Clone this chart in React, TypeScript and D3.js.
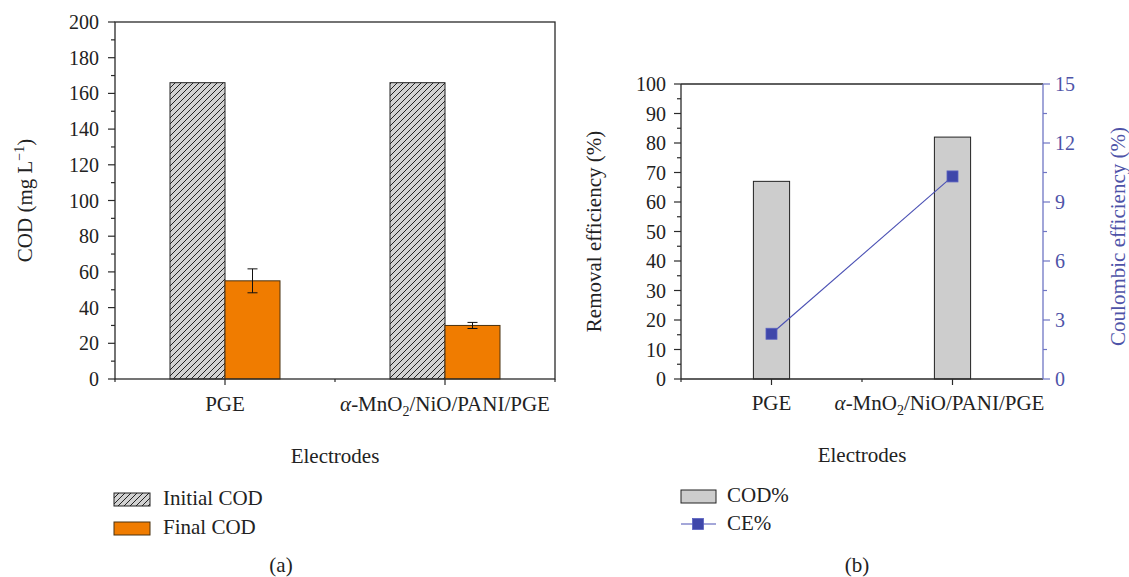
import React from "react";
import * as d3 from "d3";

// data
const electrodes = ["PGE", "α-MnO2/NiO/PANI/PGE"];
const initialCOD = [166, 166];
const finalCOD = [55, 30];
const finalErr = [6.7, 1.7];
const codRemoval = [67, 82];
const coulombic = [2.3, 10.3];

const codTicks = d3.range(0, 201, 20);
const codMinor = d3.range(10, 200, 20);
const remTicks = d3.range(0, 101, 10);
const remMinor = d3.range(5, 100, 10);
const ceTicks = d3.range(0, 16, 3);
const ceMinor = d3.range(1.5, 15, 3);

const FONT = "'Liberation Serif', 'Times New Roman', serif";
const FS = 21; // labels
const TS = 20; // tick numbers
const AXIS = "#2a2a2a";
const BLUE_TEXT = "#4e53a8";
const BLUE_AXIS = "#6f76c4";
const ORANGE = "#f07c00";

// label with the subscript for MnO2
const Label = ({ name, x, y, anchor = "middle" }: any) => {
  if (name.startsWith("α")) {
    return (
      <text x={x} y={y} textAnchor={anchor} fontFamily={FONT} fontSize={FS} fill="#222">
        <tspan fontStyle="italic">α</tspan>
        <tspan>-MnO</tspan>
        <tspan fontSize={14} dy={5}>2</tspan>
        <tspan dy={-5}>/NiO/PANI/PGE</tspan>
      </text>
    );
  }
  return (
    <text x={x} y={y} textAnchor={anchor} fontFamily={FONT} fontSize={FS} fill="#222">
      {name}
    </text>
  );
};

const PanelA = () => {
  const left = 115, right = 555, top = 22, bottom = 379;
  const x = d3.scaleBand().domain(electrodes).range([left, right]);
  const y = d3.scaleLinear().domain([0, 200]).range([bottom, top]);
  const bw = x.bandwidth() * 0.25;
  const cx = (d: string) => (x(d) as number) + x.bandwidth() / 2;
  const bounds = [left, left + x.bandwidth(), right];

  return (
    <g>
      {electrodes.map((d, i) => (
        <g key={d}>
          <rect x={cx(d) - bw} y={y(initialCOD[i])} width={bw} height={y(0) - y(initialCOD[i])}
            fill="url(#hatch)" stroke="#222" strokeWidth={1} />
          <rect x={cx(d)} y={y(finalCOD[i])} width={bw} height={y(0) - y(finalCOD[i])}
            fill={ORANGE} stroke="#4a3210" strokeWidth={1} />
          <g stroke="#111" strokeWidth={1}>
            <line x1={cx(d) + bw / 2} x2={cx(d) + bw / 2} y1={y(finalCOD[i] + finalErr[i])} y2={y(finalCOD[i] - finalErr[i])} />
            <line x1={cx(d) + bw / 2 - 5} x2={cx(d) + bw / 2 + 5} y1={y(finalCOD[i] + finalErr[i])} y2={y(finalCOD[i] + finalErr[i])} />
            <line x1={cx(d) + bw / 2 - 5} x2={cx(d) + bw / 2 + 5} y1={y(finalCOD[i] - finalErr[i])} y2={y(finalCOD[i] - finalErr[i])} />
          </g>
        </g>
      ))}
      {/* frame */}
      <rect x={left} y={top} width={right - left} height={bottom - top} fill="none" stroke={AXIS} strokeWidth={1.3} />
      {codTicks.map((t) => (
        <g key={t}>
          <line x1={left - 7} x2={left} y1={y(t)} y2={y(t)} stroke={AXIS} strokeWidth={1.2} />
          <text x={left - 16} y={y(t)} dy="0.35em" textAnchor="end" fontFamily={FONT} fontSize={TS} fill="#222">{t}</text>
        </g>
      ))}
      {codMinor.map((t) => (
        <line key={t} x1={left - 4} x2={left} y1={y(t)} y2={y(t)} stroke={AXIS} strokeWidth={1.2} />
      ))}
      {electrodes.map((d) => (
        <line key={d} x1={cx(d)} x2={cx(d)} y1={bottom} y2={bottom + 6} stroke={AXIS} strokeWidth={1.2} />
      ))}
      {bounds.map((b) => (
        <line key={b} x1={b} x2={b} y1={bottom} y2={bottom + 3} stroke={AXIS} strokeWidth={1.2} />
      ))}
      {electrodes.map((d) => (
        <Label key={d} name={d} x={cx(d)} y={411} />
      ))}
      <text x={(left + right) / 2} y={463} textAnchor="middle" fontFamily={FONT} fontSize={FS} fill="#222">Electrodes</text>
      <text transform={`translate(32,${(top + bottom) / 2}) rotate(-90)`} textAnchor="middle" fontFamily={FONT} fontSize={FS} fill="#222">
        COD (mg L<tspan fontSize={14} dy={-8}>−1</tspan><tspan dy={8}>)</tspan>
      </text>
      {/* legend */}
      <rect x={114} y={493} width={36} height={13} fill="url(#hatch)" stroke="#222" strokeWidth={1} />
      <text x={163} y={505} fontFamily={FONT} fontSize={FS} fill="#222">Initial COD</text>
      <rect x={114} y={522} width={36} height={13} fill={ORANGE} stroke="#4a3210" strokeWidth={1} />
      <text x={163} y={534} fontFamily={FONT} fontSize={FS} fill="#222">Final COD</text>
      <text x={281} y={572} textAnchor="middle" fontFamily={FONT} fontSize={FS} fill="#222">(a)</text>
    </g>
  );
};

const PanelB = () => {
  const left = 681, right = 1043, top = 84, bottom = 379;
  const x = d3.scaleBand().domain(electrodes).range([left, right]);
  const y = d3.scaleLinear().domain([0, 100]).range([bottom, top]);
  const y2 = d3.scaleLinear().domain([0, 15]).range([bottom, top]);
  const bw = x.bandwidth() * 0.2;
  const cx = (d: string) => (x(d) as number) + x.bandwidth() / 2;
  const bounds = [left, left + x.bandwidth(), right];
  const line = d3.line<number>().x((_, i) => cx(electrodes[i])).y((v) => y2(v));

  return (
    <g>
      {electrodes.map((d, i) => (
        <rect key={d} x={cx(d) - bw / 2} y={y(codRemoval[i])} width={bw} height={y(0) - y(codRemoval[i])}
          fill="#cdcdcd" stroke="#222" strokeWidth={1} />
      ))}
      <path d={line(coulombic) as string} fill="none" stroke="#4a50b4" strokeWidth={1.1} />
      {coulombic.map((v, i) => (
        <rect key={i} x={cx(electrodes[i]) - 5.5} y={y2(v) - 5.5} width={11} height={11} fill="#3f47aa" stroke="#5a62c0" strokeWidth={0.8} />
      ))}
      {/* frame */}
      <line x1={left} x2={right} y1={top} y2={top} stroke={AXIS} strokeWidth={1.3} />
      <line x1={left} x2={right} y1={bottom} y2={bottom} stroke={AXIS} strokeWidth={1.3} />
      <line x1={left} x2={left} y1={top} y2={bottom} stroke={AXIS} strokeWidth={1.3} />
      <line x1={right} x2={right} y1={top} y2={bottom} stroke={BLUE_AXIS} strokeWidth={1.3} />
      {remTicks.map((t) => (
        <g key={t}>
          <line x1={left - 7} x2={left} y1={y(t)} y2={y(t)} stroke={AXIS} strokeWidth={1.2} />
          <text x={left - 15} y={y(t)} dy="0.35em" textAnchor="end" fontFamily={FONT} fontSize={TS} fill="#222">{t}</text>
        </g>
      ))}
      {remMinor.map((t) => (
        <line key={t} x1={left - 4} x2={left} y1={y(t)} y2={y(t)} stroke={AXIS} strokeWidth={1.2} />
      ))}
      {ceTicks.map((t) => (
        <g key={t}>
          <line x1={right} x2={right + 7} y1={y2(t)} y2={y2(t)} stroke={BLUE_AXIS} strokeWidth={1.2} />
          <text x={right + 12} y={y2(t)} dy="0.35em" textAnchor="start" fontFamily={FONT} fontSize={TS} fill={BLUE_TEXT}>{t}</text>
        </g>
      ))}
      {ceMinor.map((t) => (
        <line key={t} x1={right} x2={right + 4} y1={y2(t)} y2={y2(t)} stroke={BLUE_AXIS} strokeWidth={1.2} />
      ))}
      {electrodes.map((d) => (
        <line key={d} x1={cx(d)} x2={cx(d)} y1={bottom} y2={bottom + 6} stroke={AXIS} strokeWidth={1.2} />
      ))}
      {bounds.slice(0, 2).map((b) => (
        <line key={b} x1={b} x2={b} y1={bottom} y2={bottom + 3} stroke={AXIS} strokeWidth={1.2} />
      ))}
      <Label name={electrodes[0]} x={cx(electrodes[0])} y={410} />
      <Label name={electrodes[1]} x={cx(electrodes[1]) - 13} y={410} />
      <text x={(left + right) / 2} y={462} textAnchor="middle" fontFamily={FONT} fontSize={FS} fill="#222">Electrodes</text>
      <text transform={`translate(601,${(top + bottom) / 2}) rotate(-90)`} textAnchor="middle" fontFamily={FONT} fontSize={FS} fill="#222">
        Removal efficiency (%)
      </text>
      <text transform={`translate(1125,${(top + bottom) / 2 + 5}) rotate(-90)`} textAnchor="middle" fontFamily={FONT} fontSize={FS} fill={BLUE_TEXT}>
        Coulombic efficiency (%)
      </text>
      {/* legend */}
      <rect x={681} y={490} width={35} height={13} fill="#cdcdcd" stroke="#222" strokeWidth={1} />
      <text x={727} y={502} fontFamily={FONT} fontSize={FS} fill="#222">COD%</text>
      <line x1={681} x2={716} y1={524} y2={524} stroke="#4a50b4" strokeWidth={1.1} />
      <rect x={692.5} y={518.5} width={11} height={11} fill="#3f47aa" stroke="#5a62c0" strokeWidth={0.8} />
      <text x={727} y={530} fontFamily={FONT} fontSize={FS} fill="#222">CE%</text>
      <text x={857} y={572} textAnchor="middle" fontFamily={FONT} fontSize={FS} fill="#222">(b)</text>
    </g>
  );
};

export default function App() {
  return (
    <svg width={1129} height={577} style={{ position: "absolute", left: 0, top: 0, background: "#fff" }}>
      <defs>
        <pattern id="hatch" patternUnits="userSpaceOnUse" width={6} height={6}>
          <rect width={6} height={6} fill="#d2d2d2" />
          <path d="M0,6 L6,0 M-1.5,1.5 L1.5,-1.5 M4.5,7.5 L7.5,4.5" stroke="#222" strokeWidth={1} />
        </pattern>
      </defs>
      <PanelA />
      <PanelB />
    </svg>
  );
}
